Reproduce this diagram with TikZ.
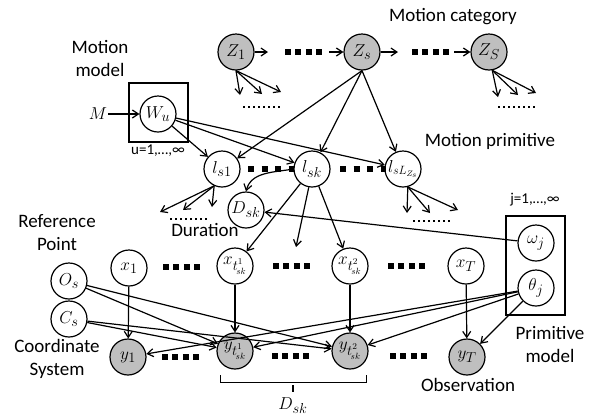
\documentclass[tikz,border=0pt]{standalone}
\usepackage{fontspec}
\setmainfont{Carlito}
\usetikzlibrary{arrows.meta,calc}
\newcommand{\tsk}[1]{t^{\raisebox{1.5pt}{$\scriptscriptstyle #1$}}_{\!\raisebox{-1.2pt}{$\scriptscriptstyle sk$}}}
\begin{document}
\begin{tikzpicture}[x=1pt,y=-1pt,
  var/.style={circle,draw,line width=1.2pt,minimum size=36pt,inner sep=0pt,font=\fontsize{19}{22}\selectfont},
  obs/.style={var,fill=gray!50},
  edge/.style={line width=1.2pt,-{Straight Barb[length=6pt,width=8pt]}},
  lbl/.style={font=\fontsize{19}{23}\selectfont,align=center,inner sep=0pt},
  small/.style={font=\fontsize{15}{18}\selectfont,inner sep=0pt},
  sq/.style={line width=6pt,dash pattern=on 6pt off 4.4pt},
  sqw/.style={line width=6pt,dash pattern=on 6pt off 7.5pt},
  dotsl/.style={line width=2pt,dash pattern=on 2pt off 3pt},
  plate/.style={draw,line width=1.8pt,inner sep=0pt}]
\useasboundingbox (0,0) rectangle (592,416);

% plates
\node[plate,minimum width=59pt,minimum height=59pt] (Wbox) at (158.5,112.5) {};
\node[plate,minimum width=59pt,minimum height=99pt] (Jbox) at (535.5,265.5) {};

% nodes
\node[obs] (Z1) at (236,52) {$Z_1$};
\node[obs] (Zs) at (362,52) {$Z_s$};
\node[obs] (ZS) at (489,52) {$Z_S$};
\node[var] (Wu) at (158,114) {$W_u$};
\node[var] (ls1) at (222,169) {$l_{s1}$};
\node[var] (lsk) at (312,169) {$l_{sk}$};
\node[var,font=\fontsize{17}{20}\selectfont] (lsL) at (403,169) {$l_{sL_{Z_s}}$};
\node[var] (Dsk) at (246,210) {$D_{sk}$};
\node[var] (Os) at (69,281) {$O_s$};
\node[var] (Cs) at (69,319) {$C_s$};
\node[var] (x1) at (129,268) {$x_1$};
\node[var] (xt1) at (235,266) {$x_{\tsk{1}}$};
\node[var] (xt2) at (350,266) {$x_{\tsk{2}}$};
\node[var] (xT) at (466,266) {$x_T$};
\node[obs] (y1) at (128,357) {$y_1$};
\node[obs] (yt1) at (235,351) {$y_{\tsk{1}}$};
\node[obs] (yt2) at (350,351) {$y_{\tsk{2}}$};
\node[obs] (yT) at (467,357) {$y_T$};
\node[var] (wj) at (536,243) {$\omega_j$};
\node[var] (tj) at (536,288) {$\theta_j$};
\node[inner sep=1pt,font=\fontsize{19}{22}\selectfont] (M) at (98,114) {$M$};

% labels
\node[lbl] (lmc) at (453,17) {Motion category};
\node[lbl] (lmm) at (100,58) {Motion\\model};
\node[lbl] (lmp) at (490,141) {Motion primitive};
\node[lbl] (ldur) at (205,230) {Duration};
\node[lbl] (lrp) at (57,233) {Reference\\Point};
\node[lbl] (lcs) at (57,359) {Coordinate\\System};
\node[lbl] (lpm) at (550,344) {Primitive\\model};
\node[lbl] (lob) at (468,385) {Observation};
\node[small] (lu) at (158,151) {u=1,…,∞};
\node[small] (lj) at (535,200) {j=1,…,∞};
\node[inner sep=0pt,font=\fontsize{19}{22}\selectfont] (lD) at (293,406) {$D_{sk}$};

% square-dot chains
\draw[sq] (285,52) -- (322,52);
\draw[sq] (412,52) -- (449,52);
\draw[sqw] (248,169) -- (294,169);
\draw[sqw] (340,169) -- (386,169);
\draw[sq] (163,267) -- (200,267);
\draw[sq] (273,266) -- (310,266);
\draw[sq] (388,266) -- (425,266);
\draw[sq] (162,357) -- (199,357);
\draw[sq] (272,356) -- (309,356);
\draw[sq] (390,356) -- (427,356);

% small dotted rows
\draw[dotsl] (243,107) -- (281,107);
\draw[dotsl] (498,107) -- (536,107);
\draw[dotsl] (170,219) -- (208,219);
\draw[dotsl] (413,221) -- (451,221);

% Z chain arrows
\coordinate (za) at (268,52);
\coordinate (zb) at (329,52);
\coordinate (zc) at (398,52);
\coordinate (zd) at (454,52);
\draw[edge] (Z1) -- (za);
\draw[edge] (zb) -- (Zs);
\draw[edge] (Zs) -- (zc);
\draw[edge] (zd) -- (ZS);

% fans
\coordinate (f11) at (240,95); \coordinate (f12) at (262,94); \coordinate (f13) at (281,92);
\draw[edge] (Z1.south) -- (f11);
\draw[edge] (Z1.south) -- (f12);
\draw[edge] (Z1.south) -- (f13);
\coordinate (f21) at (498,97); \coordinate (f22) at (518,95); \coordinate (f23) at (536,93);
\draw[edge] (ZS.-80) -- (f21);
\draw[edge] (ZS.-80) -- (f22);
\draw[edge] (ZS.-80) -- (f23);
\coordinate (f31) at (160,212); \coordinate (f32) at (183,210); \coordinate (f33) at (212,207);
\draw[edge] (ls1.245) -- (f31);
\draw[edge] (ls1.245) -- (f32);
\draw[edge] (ls1.245) -- (f33);
\coordinate (f41) at (407,213); \coordinate (f42) at (430,213); \coordinate (f43) at (458,210);
\draw[edge] (lsL.285) -- (f41);
\draw[edge] (lsL.285) -- (f42);
\draw[edge] (lsL.285) -- (f43);

% model edges
\draw[edge] (M) -- (Wu);
\foreach \t in {ls1,lsk,lsL} \draw[edge] (Wu) -- (\t);
\foreach \t in {ls1,lsk,lsL} \draw[edge] (Zs.south) -- (\t);

% lsk children
\coordinate (lkf) at (296,247);
\draw[edge] (lsk.west) to[out=190,in=75] (Dsk.north);
\draw[edge] (lsk) -- (xt1);
\draw[edge] (lsk.-100) -- (lkf);
\draw[edge] (lsk) -- (xt2);
\draw[edge] (wj) -- (Dsk);

% observations
\draw[edge] (x1) -- (y1);
\draw[edge] (xt1) -- (yt1);
\draw[edge] (xt2) -- (yt2);
\draw[edge] (xT) -- (yT);
\draw[edge] (Os) -- (yt1);
\draw[edge] (Os) -- (yt2);
\draw[edge] (Cs) -- (yt1);
\draw[edge] (Cs) -- (yt2);
\foreach \t in {y1,yt1,yt2,yT} \draw[edge] (tj) -- (\t);

% duration bracket
\draw[line width=1.2pt] ($(yt1.south west)+(-1,11)$) coordinate (ba) -- ++(0,7) -| ($(yt2.south east)+(3,11)$) coordinate (bb);
\draw[line width=1.2pt] (293,385) -- (293,392);
\end{tikzpicture}
\end{document}
